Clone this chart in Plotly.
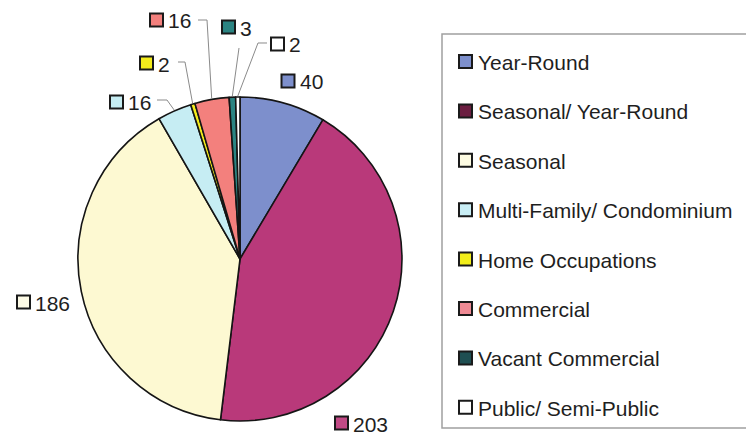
import numpy as np
import plotly.graph_objects as go

# ---------------- data ----------------
categories = [
    "Year-Round",
    "Seasonal/ Year-Round",
    "Seasonal",
    "Multi-Family/ Condominium",
    "Home Occupations",
    "Commercial",
    "Vacant Commercial",
    "Public/ Semi-Public",
]
counts = [40, 203, 186, 16, 2, 16, 3, 2]

# ---------------- styles ----------------
slice_colors = ["#7d8fcc", "#b9397a", "#fdf9d2", "#c6edf3", "#f4ec1c",
                "#f3807d", "#2b8482", "#ffffff"]
label_sq_colors = ["#7d8fcc", "#c24a86", "#fdfbe6", "#c6edf3", "#f4ec1c",
                   "#f3807d", "#2b8482", "#ffffff"]
legend_colors = ["#7d8fcc", "#6b1d40", "#fdfbe2", "#c9eef5", "#f2ee1a",
                 "#ef8a94", "#1f4f52", "#ffffff"]

W, H = 746, 435
CX, CY, R = 240, 259, 162
FONT = "Liberation Sans, Arial, sans-serif"


def px(x):
    return x / W


def py(y):
    return 1 - y / H


# label square centres (pixels) and leader-line bends (pixels), per slice
label_pos = [(288, 81), (341.5, 423), (23.5, 302), (116.5, 102),
             (146.5, 63), (156.5, 20), (228.5, 27), (277.5, 44)]
leader_bends = [None, None, None,
                [(167, 100), (157, 100)],
                [(185, 62), (178, 62)],
                [(207, 20), (198, 20)],
                [(239, 48)],
                [(258, 43), (267, 43)]]

fig = go.Figure(go.Pie(
    labels=categories, values=counts, sort=False,
    direction="clockwise", rotation=0,
    marker=dict(colors=slice_colors, line=dict(color="#151515", width=1.6)),
    textinfo="none", hoverinfo="label+value", showlegend=False,
    domain=dict(x=[px(CX - R), px(CX + R)], y=[py(CY + R), py(CY - R)]),
))

shapes = []
annotations = []

vals = np.array(counts, dtype=float)
total = vals.sum()
mids = (np.cumsum(vals) - vals / 2) / total * 2 * np.pi

SQ = 13
for i, v in enumerate(counts):
    sx, sy = label_pos[i]
    shapes.append(dict(type="rect", xref="paper", yref="paper",
                       x0=px(sx - SQ / 2), x1=px(sx + SQ / 2),
                       y0=py(sy + SQ / 2), y1=py(sy - SQ / 2),
                       fillcolor=label_sq_colors[i],
                       line=dict(color="#1a1a1a", width=2)))
    annotations.append(dict(xref="paper", yref="paper",
                            x=px(sx + SQ / 2 + 4), y=py(sy + 1),
                            xanchor="left", yanchor="middle",
                            text=str(v), showarrow=False, borderpad=0,
                            font=dict(family=FONT, size=21, color="#1e1e1e")))
    if leader_bends[i]:
        ex = CX + (R + 1) * np.sin(mids[i])
        ey = CY - (R + 1) * np.cos(mids[i])
        pts = [(ex, ey)] + leader_bends[i]
        path = "M " + " L ".join(f"{px(x):.5f},{py(y):.5f}" for x, y in pts)
        shapes.append(dict(type="path", xref="paper", yref="paper", path=path,
                           line=dict(color="#8a8a8a", width=1)))

# custom legend box
shapes.append(dict(type="rect", xref="paper", yref="paper",
                   x0=px(442), x1=1.05, y0=py(428), y1=py(34),
                   fillcolor="rgba(0,0,0,0)",
                   line=dict(color="#a0a0a0", width=1.5)))
LEG_Y0, LEG_DY = 61.5, 49.4
for i, name in enumerate(categories):
    cy = LEG_Y0 + i * LEG_DY
    shapes.append(dict(type="rect", xref="paper", yref="paper",
                       x0=px(459), x1=px(472), y0=py(cy + 6.5), y1=py(cy - 6.5),
                       fillcolor=legend_colors[i],
                       line=dict(color="#1a1a1a", width=2)))
    annotations.append(dict(xref="paper", yref="paper",
                            x=px(477), y=py(cy + 1),
                            xanchor="left", yanchor="middle",
                            text=name, showarrow=False, borderpad=0,
                            font=dict(family=FONT, size=21, color="#1e1e1e")))

fig.update_layout(
    width=W, height=H,
    margin=dict(l=0, r=0, t=0, b=0),
    paper_bgcolor="white", plot_bgcolor="white",
    shapes=shapes, annotations=annotations,
)

fig.write_html(
    "out.html",
    config={"displayModeBar": False},
    post_script="document.body.style.margin='0';document.body.style.overflow='hidden';",
)
